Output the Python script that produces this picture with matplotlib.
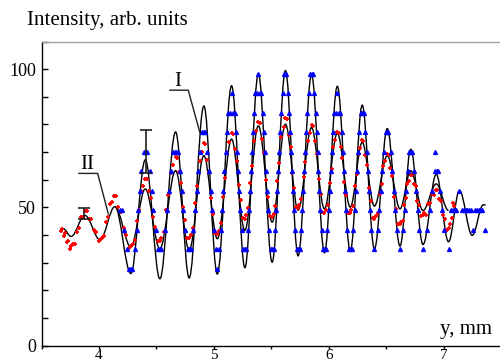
import numpy as np
import matplotlib
matplotlib.use("Agg")
import matplotlib.pyplot as plt
from matplotlib.path import Path
from matplotlib.patches import PathPatch
from matplotlib.ticker import MultipleLocator

plt.rcParams['font.family'] = ['Liberation Serif', 'DejaVu Serif']

# ---- data ----
# fitted curve I: successive extrema (x in mm, intensity)
curve1_x = [3.690, 3.757, 3.878, 4.009, 4.139, 4.278, 4.403, 4.530, 4.667, 4.785, 4.913, 5.030,
            5.154, 5.270, 5.387, 5.507, 5.623, 5.733, 5.850, 5.962, 6.074, 6.187, 6.291, 6.397,
            6.509, 6.620, 6.713, 6.820, 6.935, 7.042, 7.137, 7.248, 7.345, 7.365]
curve1_y = [42.3, 39.5, 47.1, 38.3, 50.3, 26.1, 67.2, 24.2, 77.3, 24.5, 86.7, 25.9,
            94.0, 28.2, 98.3, 30.2, 99.5, 32.5, 98.0, 33.6, 93.8, 34.2, 87.0, 35.0,
            78.5, 36.0, 71.0, 36.6, 62.0, 37.6, 56.1, 39.9, 51.0, 50.8]
# fitted curve II: successive extrema
curve2_x = [3.690, 3.757, 3.878, 4.009, 4.139, 4.278, 4.403, 4.530, 4.667, 4.785, 4.913, 5.030,
            5.154, 5.270, 5.387, 5.507, 5.623, 5.733, 5.850, 5.962, 6.074, 6.187, 6.291, 6.397,
            6.509, 6.620, 6.713, 6.820, 6.935, 7.042]
curve2_y = [42.3, 39.5, 47.1, 38.3, 50.3, 35.7, 56.7, 35.1, 63.3, 34.6, 68.7, 38.7,
            74.7, 41.7, 79.5, 44.7, 80.1, 49.0, 78.9, 49.5, 76.8, 50.1, 73.5, 50.5,
            68.7, 49.5, 63.3, 48.9, 58.5, 48.9]

# blue (triangles): quantised intensity levels and samples (x, level index)
blue_levels = [27.8, 34.8, 41.9, 48.9, 55.9, 63.0, 70.0, 77.1, 84.1, 91.2, 98.2]
blue_x = [4.185, 4.200, 4.221, 4.242, 4.265, 4.278, 4.291,
          4.3115, 4.327, 4.3405, 4.354, 4.3695, 4.390, 4.403, 4.416,
          4.4405, 4.4584, 4.4746, 4.4925, 4.517, 4.530, 4.543,
          4.5704, 4.5897, 4.6073, 4.6266, 4.645, 4.659, 4.673, 4.687,
          4.7018, 4.7184, 4.7336, 4.7502, 4.772, 4.785, 4.798,
          4.8193, 4.8352, 4.849, 4.8628, 4.8787, 4.900, 4.913, 4.926,
          4.9444, 4.9589, 4.9715, 4.9841, 4.9986, 5.017, 5.030, 5.043,
          5.0585, 5.0713, 5.0821, 5.092, 5.1019, 5.1127, 5.1255, 5.140, 5.154,
          5.168, 5.1807, 5.1926, 5.2027, 5.212, 5.2213, 5.2314, 5.2433, 5.257, 5.270, 5.283,
          5.2953, 5.3066, 5.3159, 5.3244, 5.3326, 5.3411, 5.3504, 5.3617, 5.374, 5.387,
          5.400, 5.4129, 5.4245, 5.434, 5.4428, 5.4512, 5.460, 5.4695, 5.4811, 5.494, 5.507, 5.520,
          5.5321, 5.5433, 5.5525, 5.5609, 5.5691, 5.5775, 5.5868, 5.5979, 5.613, 5.630,
          5.6468, 5.6574, 5.6661, 5.6741, 5.6819, 5.6899, 5.6986, 5.7092, 5.720, 5.733, 5.746,
          5.7583, 5.7696, 5.7789, 5.7874, 5.7956, 5.8041, 5.8134, 5.8247, 5.838, 5.850, 5.862,
          5.8742, 5.885, 5.8939, 5.9021, 5.9099, 5.9181, 5.927, 5.9378, 5.950, 5.962, 5.974,
          5.9878, 5.9993, 6.009, 6.018, 6.027, 6.0367, 6.0482, 6.061, 6.074,
          6.087, 6.100, 6.1116, 6.1215, 6.1305, 6.1395, 6.1494, 6.161, 6.174, 6.187, 6.200,
          6.2127, 6.2243, 6.2342, 6.2438, 6.2537, 6.2653, 6.279, 6.291, 6.303,
          6.3172, 6.3291, 6.3391, 6.3489, 6.3589, 6.3708, 6.397,
          6.427, 6.4409, 6.453, 6.4651, 6.479, 6.494, 6.506, 6.518,
          6.5387, 6.5525, 6.5645, 6.5765, 6.5903, 6.620,
          6.6474, 6.6605, 6.6725, 6.6856, 6.700, 6.713, 6.726,
          6.7446, 6.7597, 6.7733, 6.7884, 6.820,
          6.8583, 6.8775, 6.8967, 6.921, 6.927, 6.940, 6.953,
          6.9706, 6.9885, 7.0064, 7.042,
          7.065, 7.080, 7.095, 7.110, 7.137, 7.160, 7.175, 7.190, 7.205, 7.220, 7.235,
          7.255, 7.275, 7.290, 7.305, 7.320, 7.335, 7.360]
blue_lvl = [3, 3, 2, 1, 0, 0, 0,
            1, 2, 3, 4, 5, 6, 6, 6,
            5, 4, 3, 2, 1, 1, 1,
            2, 3, 4, 5, 6, 6, 6, 6,
            5, 4, 3, 2, 1, 1, 1,
            2, 3, 4, 5, 6, 7, 7, 7,
            6, 5, 4, 3, 2, 1, 0, 1,
            2, 3, 4, 5, 6, 7, 8, 8, 9,
            8, 8, 7, 6, 5, 4, 3, 2, 1, 1, 1,
            2, 3, 4, 5, 6, 7, 8, 9, 9, 10,
            9, 9, 8, 7, 6, 5, 4, 3, 2, 1, 1, 1,
            2, 3, 4, 5, 6, 7, 8, 9, 10, 10,
            9, 8, 7, 6, 5, 4, 3, 2, 1, 1, 1,
            2, 3, 4, 5, 6, 7, 8, 9, 10, 10, 10,
            9, 8, 7, 6, 5, 4, 3, 2, 1, 1, 1,
            2, 3, 4, 5, 6, 7, 8, 8, 9,
            8, 8, 7, 6, 5, 4, 3, 2, 1, 1, 1,
            2, 3, 4, 5, 6, 7, 8, 8, 8,
            7, 6, 5, 4, 3, 2, 1,
            2, 3, 4, 5, 6, 7, 7, 7,
            6, 5, 4, 3, 2, 1,
            2, 3, 4, 5, 6, 6, 6,
            5, 4, 3, 2, 1,
            2, 3, 4, 6, 5, 5, 5,
            4, 3, 2, 1,
            3, 3, 3, 3, 4, 3, 3, 3, 3, 3, 3,
            2, 3, 3, 3, 3, 3, 2]

# red (crosses): measured points
red_x = [3.672, 3.681, 3.694, 3.707, 3.720, 3.734, 3.747, 3.760,
         3.772, 3.790, 3.807, 3.825, 3.843, 3.860, 3.878,
         3.892, 3.914, 3.935, 3.956, 3.977, 3.999, 4.020,
         4.031, 4.048, 4.065, 4.082, 4.099, 4.116, 4.133,
         4.148, 4.170, 4.192, 4.214, 4.236, 4.258, 4.280,
         4.292, 4.311, 4.329, 4.348, 4.366, 4.385, 4.403,
         4.416, 4.435, 4.454, 4.473, 4.492, 4.511, 4.530,
         4.544, 4.564, 4.585, 4.605, 4.626, 4.647, 4.667,
         4.679, 4.697, 4.714, 4.732, 4.750, 4.767, 4.785,
         4.798, 4.817, 4.836, 4.855, 4.875, 4.894, 4.913,
         4.925, 4.942, 4.960, 4.977, 4.995, 5.013, 5.030,
         5.042, 5.061, 5.080, 5.098, 5.117, 5.135, 5.154,
         5.166, 5.183, 5.200, 5.218, 5.235, 5.253, 5.270,
         5.282, 5.299, 5.317, 5.334, 5.352, 5.370, 5.387,
         5.399, 5.417, 5.435, 5.453, 5.471, 5.489, 5.507,
         5.519, 5.536, 5.553, 5.571, 5.588, 5.606, 5.623,
         5.634, 5.651, 5.667, 5.684, 5.700, 5.717, 5.733,
         5.745, 5.762, 5.780, 5.797, 5.815, 5.833, 5.850,
         5.861, 5.878, 5.895, 5.912, 5.928, 5.945, 5.962,
         5.973, 5.990, 6.007, 6.024, 6.040, 6.057, 6.074,
         6.085, 6.102, 6.119, 6.136, 6.153, 6.170, 6.187,
         6.197, 6.213, 6.229, 6.244, 6.260, 6.275, 6.291,
         6.302, 6.318, 6.333, 6.349, 6.365, 6.381, 6.397,
         6.408, 6.425, 6.442, 6.459, 6.475, 6.492, 6.509,
         6.520, 6.537, 6.553, 6.570, 6.587, 6.603, 6.620,
         6.629, 6.643, 6.657, 6.671, 6.685, 6.699, 6.713,
         6.724, 6.740, 6.756, 6.772, 6.788, 6.804, 6.820,
         6.832, 6.849, 6.866, 6.883, 6.901, 6.918, 6.935,
         6.946, 6.962, 6.978, 6.994, 7.010, 7.026, 7.042,
         7.054, 7.068, 7.083, 7.090]
red_y = [41.5, 42.1, 39.8, 40.6, 37.6, 37.8, 35.1, 36.2,
         36.8, 36.7, 41.2, 42.4, 46.5, 46.6, 48.7,
         48.8, 45.9, 45.9, 41.9, 41.1, 37.8, 38.6,
         39.3, 39.6, 44.7, 46.6, 51.3, 51.9, 54.1,
         54.0, 50.1, 48.5, 42.6, 40.1, 35.5, 35.9,
         36.8, 38.2, 45.1, 49.1, 55.8, 57.7, 60.4,
         60.2, 55.8, 53.3, 46.4, 42.9, 37.7, 37.9,
         39.0, 41.1, 49.1, 54.5, 62.5, 65.3, 68.4,
         68.0, 62.8, 58.9, 50.3, 45.4, 39.1, 38.9,
         40.1, 42.7, 51.5, 57.9, 66.7, 70.1, 73.4,
         72.9, 67.3, 62.7, 53.3, 47.6, 40.8, 40.4,
         41.6, 44.4, 53.7, 60.5, 69.8, 73.5, 76.9,
         76.4, 71.1, 66.9, 58.0, 52.7, 46.2, 45.9,
         47.1, 49.7, 58.7, 65.1, 74.1, 77.6, 80.9,
         80.4, 74.6, 69.7, 60.0, 53.9, 46.9, 46.4,
         47.6, 50.4, 59.5, 66.2, 75.4, 79.0, 82.4,
         81.9, 76.3, 71.9, 62.6, 57.0, 50.3, 49.9,
         50.9, 53.0, 61.0, 66.3, 74.1, 76.9, 79.9,
         79.4, 73.9, 69.5, 60.4, 54.9, 48.2, 47.9,
         48.9, 50.9, 58.8, 64.0, 71.7, 74.4, 77.4,
         77.0, 71.8, 67.9, 59.3, 54.4, 48.1, 47.9,
         48.9, 50.5, 57.8, 62.2, 69.3, 71.6, 74.4,
         74.0, 68.9, 65.3, 56.9, 52.2, 46.1, 45.9,
         46.8, 48.0, 54.7, 58.5, 65.0, 66.7, 69.4,
         69.1, 64.4, 61.3, 53.7, 49.6, 43.9, 43.9,
         44.6, 45.2, 50.8, 53.3, 58.6, 59.5, 61.9,
         61.8, 58.5, 57.6, 52.5, 50.8, 46.8, 47.4,
         47.9, 47.4, 51.2, 51.6, 55.0, 54.5, 56.4,
         56.4, 53.1, 52.3, 47.3, 45.7, 41.8, 42.4,
         44.0, 46.3, 51.6, 50.4]

# error bars: x, lower, upper
err_x = [3.872, 4.409]
err_lo = [45.9, 62.3]
err_hi = [49.9, 78.0]

# curve labels and their leader lines
label_text = ["I", "II"]
label_pos = [(4.690, 95.7), (3.898, 65.7)]
leader_x = [[4.617, 4.777, 4.878], [3.826, 3.989, 4.081]]
leader_y = [[92.4, 92.4, 77.1], [62.3, 62.3, 47.7]]

x_ticks = [4, 5, 6, 7]
y_ticks = [0, 50, 100]


def smooth_path(xs, ys, k=0.36):
    verts = [(xs[0], ys[0])]
    codes = [Path.MOVETO]
    for i in range(len(xs) - 1):
        dx = xs[i + 1] - xs[i]
        verts += [(xs[i] + k * dx, ys[i]), (xs[i + 1] - k * dx, ys[i + 1]), (xs[i + 1], ys[i + 1])]
        codes += [Path.CURVE4] * 3
    return Path(verts, codes)


fig = plt.figure(figsize=(5.0, 3.63), dpi=100)
L, B, T = 41.5, 345.7, 41.5
ax = fig.add_axes([L / 500, 1 - B / 363, 1 - L / 500, (B - T) / 363])

ax.add_patch(PathPatch(smooth_path(curve1_x, curve1_y), fill=False, edgecolor='black', lw=1.0, zorder=2))
ax.add_patch(PathPatch(smooth_path(curve2_x[4:], curve2_y[4:]), fill=False, edgecolor='black', lw=1.0, zorder=2))

ax.plot(red_x, red_y, linestyle='none', marker='+', ms=3.2, mew=1.3, color='#ff0000', zorder=3)
ax.plot(blue_x, np.array(blue_levels)[blue_lvl], linestyle='none', marker='^', ms=2.8,
        color='#0000ff', mec='#0000ff', zorder=4)

mid = [(a + b) / 2 for a, b in zip(err_lo, err_hi)]
half = [(b - a) / 2 for a, b in zip(err_lo, err_hi)]
ax.errorbar(err_x, mid, yerr=half, fmt='none', ecolor='#202020', elinewidth=1.2, capsize=4.3,
            capthick=1.2, zorder=5)

for txt, (px, py), lx, ly in zip(label_text, label_pos, leader_x, leader_y):
    ax.text(px, py, txt, ha='center', va='center', fontsize=15, color='black')
    ax.plot(lx, ly, color='#202020', lw=1.0, zorder=5)

ax.set_xlim(3.5, 7.49)
ax.set_ylim(0, 110)
ax.set_xticks(x_ticks)
ax.set_yticks(y_ticks)
ax.xaxis.set_minor_locator(MultipleLocator(0.5))
ax.yaxis.set_minor_locator(MultipleLocator(10))
ax.tick_params(axis='x', which='both', direction='out', length=2.5, width=1, pad=0, labelsize=11)
ax.tick_params(axis='y', which='both', direction='in', length=4, width=1, pad=4, labelsize=13)

ax.spines['right'].set_visible(False)
ax.spines['top'].set_color('#a0a0a0')
ax.spines['top'].set_linewidth(1.0)
ax.spines['left'].set_linewidth(1.0)
ax.spines['bottom'].set_linewidth(1.0)

ax.text(0.983, 0.052, "y, mm", transform=ax.transAxes, ha='right', va='center', fontsize=15)
fig.text(27 / 500, 1 - 20 / 363, "Intensity, arb. units", ha='left', va='center', fontsize=15)

fig.savefig("out.png", dpi=100)
